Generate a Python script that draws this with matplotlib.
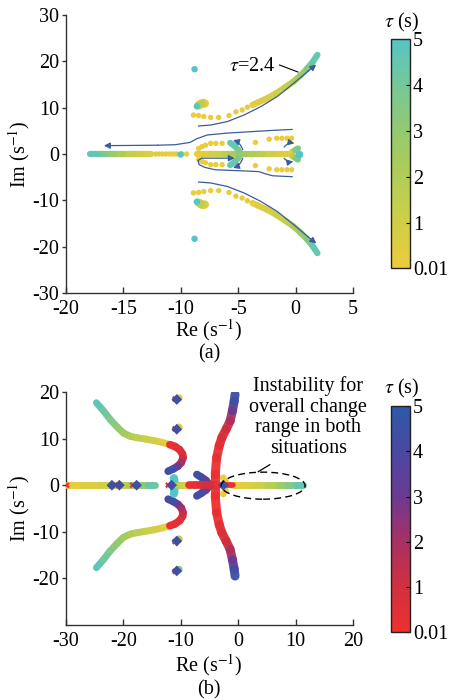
import numpy as np
import matplotlib
matplotlib.use('Agg')
import matplotlib.pyplot as plt
from matplotlib.collections import LineCollection
from matplotlib.colors import LinearSegmentedColormap, Normalize
from matplotlib.patches import Ellipse
import matplotlib.cm as cm

plt.rcParams['font.family'] = ['Liberation Serif', 'DejaVu Serif']
plt.rcParams['mathtext.fontset'] = 'stix'
plt.rcParams['axes.unicode_minus'] = False
FS = 14.5

# ---------------- data: panel (a) ----------------
a_up_sparse_re = [-8.9, -8.45, -8.0, -7.4, -6.7, -5.8, -5.2, -4.65, -4.2, -3.75]
a_up_sparse_im = [8.4, 8.3, 8.1, 7.9, 7.9, 8.3, 9.1, 9.5, 10.1, 10.6]
a_up_sparse_tau = [0.01, 0.02, 0.03, 0.05, 0.07, 0.1, 0.13, 0.17, 0.22, 0.3]
a_up_dense_re = [-3.75, -3.3, -2.5, -1.7, -0.9, -0.2, 0.4, 1.0, 1.5, 1.9]
a_up_dense_im = [10.6, 11.1, 12.0, 13.1, 14.4, 15.6, 16.9, 18.4, 19.9, 21.4]
a_up_dense_tau = [0.3, 0.4, 0.6, 0.9, 1.3, 1.8, 2.4, 3.2, 4.1, 5.0]

a_real_dense_re = [-12.6, -13.4, -14.2, -15.0, -15.8, -16.6, -17.3, -17.9]
a_real_dense_tau = [0.5, 0.8, 1.2, 1.8, 2.4, 3.4, 4.3, 5.0]
a_real_sparse_re = [-9.5, -9.9, -10.4, -10.7, -11.0, -11.3, -11.6, -11.9, -12.2]
a_real_sparse_tau = [0.01, 0.03, 0.06, 0.1, 0.15, 0.2, 0.27, 0.34, 0.42]

a_iso_re = [-8.8, -8.6, -10.1]
a_iso_im = [18.3, 10.3, 0.0]
a_iso_tau = [5.0, 5.0, 5.0]
a_blob_re = [-7.9, -8.05, -8.25, -8.45]
a_blob_im = [10.9, 11.0, 10.8, 10.5]
a_blob_tau = [0.01, 0.3, 0.9, 2.5]

a_cl_re = [-8.6, -8.0, -7.4, -6.8, -6.2, -5.6, -5.1, -4.8]
a_cl_tau = [0.01, 0.3, 0.6, 1.0, 1.4, 1.9, 2.3, 2.6]
a_fork_re = [-4.8, -5.0, -5.3, -5.7]
a_fork_im = [0.0, 0.9, 1.7, 2.4]
a_fork_tau = [2.6, 3.3, 4.1, 5.0]
a_cr_re = [-0.4, -1.2, -2.0, -2.8, -3.6, -4.3, -4.8]
a_cr_tau = [0.01, 0.4, 0.9, 1.4, 1.9, 2.3, 2.6]
a_z_re = [-0.5, -0.25, 0.0, 0.2]
a_z_im = [0.0, 0.5, 0.9, 1.2]
a_z_tau = [0.01, 1.0, 2.5, 5.0]

a_ul_re = [-8.45, -8.15, -7.85, -7.4, -6.95, -6.4]
a_ul_im = [1.2, 1.6, 1.9, 2.3, 2.3, 2.3]
a_ur_re = [-3.5, -2.3, -1.65, -1.2, -0.75, -0.35]
a_ur_im = [2.5, 3.2, 3.4, 3.4, 3.4, 3.4]
a_dot_tau = 0.01

# annotation paths (a)
arc_up_re = [-8.45, -7.4, -5.95, -4.5, -3.05, -1.6, -0.15, 1.05, 1.8]
arc_up_im = [6.05, 6.25, 7.0, 8.4, 10.2, 12.4, 15.3, 17.8, 19.3]
left_re = [-0.3, -2.0, -4.0, -6.0, -7.7, -8.6, -9.2, -10.5, -12.0, -16.7]
left_im = [5.3, 5.1, 4.8, 4.5, 4.1, 3.3, 2.5, 2.0, 1.9, 1.8]
low_re = [-8.2, -8.5, -8.4, -7.9, -7.0, -5.0, -3.2, -2.6, -2.0, -0.3]
low_im = [-0.9, -1.4, -2.3, -2.9, -3.4, -3.6, -3.8, -4.3, -4.7, -4.9]

# ---------------- data: panel (b) ----------------
b_out_a_re = [-24.7, -23.5, -22.3, -21.1, -20.0, -18.8, -17.7, -16.2, -14.8, -13.3, -11.9]
b_out_a_im = [17.7, 16.0, 14.1, 12.5, 11.2, 10.5, 10.2, 9.9, 9.6, 9.2, 8.7]
b_out_a_tau = [5.0, 4.4, 3.8, 3.2, 2.7, 2.2, 1.8, 1.4, 1.0, 0.6, 0.2]
b_out_b_re = [-11.9, -11.0, -10.2, -9.7, -9.6, -9.9, -10.5, -11.3, -12.2]
b_out_b_im = [8.7, 8.3, 7.6, 6.7, 5.9, 4.9, 4.1, 3.5, 3.0]
b_out_b_tau = [0.01, 0.2, 0.4, 0.6, 0.9, 1.5, 2.4, 3.5, 5.0]

b_real_a_re = [-29.8, -27.0, -24.0, -21.0, -19.0, -17.0, -15.8, -14.5]
b_real_a_tau = [0.01, 0.3, 0.7, 1.2, 1.8, 2.6, 3.5, 5.0]

b_diam_re = [-22.0, -20.7, -17.7, -11.6, -2.6, -10.7, -10.7, -10.7, -10.7]
b_diam_im = [0, 0, 0, 0, 0, 18.4, 12.0, -12.0, -18.4]
b_clu_re = [-10.35, -10.35, -10.35, -10.35]
b_clu_im = [18.7, 12.4, -11.6, -18.1]
b_red_pt_re = [-29.9, -12.2, -21.4, -18.4, -11.0, -11.0, -11.0, -11.0]
b_red_pt_im = [0, 0, 0, 0, 18.5, 12.1, -12.1, -18.5]

b_tb_re = [-11.2, -11.05, -11.2]
b_tb_im = [1.5, 0.0, -1.8]
b_mid_a_re = [-10.6, -9.9, -9.2, -8.6]
b_mid_a_tau = [2.5, 1.5, 0.7, 0.2]
b_mid_b_re = [-8.6, -7.6, -6.6, -5.6, -4.9]
b_mid_b_tau = [0.01, 0.3, 0.6, 1.0, 1.4]
b_arm_re = [-4.9, -5.6, -6.4, -7.2]
b_arm_im = [0.0, 1.0, 1.7, 2.3]
b_arm_tau = [1.4, 2.5, 3.6, 5.0]
b_mid_c_re = [-3.9, -4.4, -4.9]
b_mid_c_tau = [0.01, 0.6, 1.4]

b_ast_re = [-4.0, -4.0, -3.75, -3.3, -2.85, -2.1, -1.4, -1.0, -0.7, -0.55]
b_ast_im = [0.0, 2.3, 5.9, 8.5, 10.2, 12.0, 13.8, 16.0, 18.0, 19.5]
b_ast_tau = [0.01, 0.05, 0.15, 0.3, 0.5, 0.8, 1.4, 2.5, 3.8, 5.0]
b_red_re = [-3.9, -3.0, -2.2, -1.5, -0.9]
b_red_tau = [0.01, 0.1, 0.2, 0.3, 0.4]
b_yd_re = [-2.6, -2.2, -2.6, -2.2]
b_yd_im = [1.6, 0.9, -1.9, -1.2]
b_right_re = [-0.9, 1.0, 3.0, 5.0, 7.0, 8.5, 10.0, 11.3]
b_right_tau = [0.01, 0.3, 0.7, 1.3, 2.2, 3.0, 4.0, 5.0]

cb_ticks = [0.01, 1, 2, 3, 4, 5]
cb_labels = ['0.01', '1', '2', '3', '4', '5']

# ---------------- styling ----------------
cmap_a = LinearSegmentedColormap.from_list('a', ['#eccc3a', '#c8cf4a', '#a2cb60', '#7dc88e', '#56c6c4'])
cmap_b = LinearSegmentedColormap.from_list('b', ['#ee3030', '#d2303e', '#a83064', '#6c3a92', '#4a48a2', '#2c5aa8'])
norm = Normalize(0.01, 5)
BLUE = '#3b5b9c'


def band(ax, re, im, tau, cmap, lw=4.3, z=3, alpha=1.0):
    pts = np.column_stack([re, im])
    segs = np.stack([pts[:-1], pts[1:]], axis=1)
    t = np.asarray(tau, float)
    lc = LineCollection(segs, cmap=cmap, norm=norm, linewidths=lw,
                        capstyle='round', joinstyle='round', zorder=z, alpha=alpha)
    lc.set_array((t[:-1] + t[1:]) / 2)
    ax.add_collection(lc)


def dots(ax, re, im, tau, cmap, s=14, z=4, marker='o'):
    ax.scatter(re, im, c=np.broadcast_to(np.asarray(tau, float), np.shape(re)),
               cmap=cmap, norm=norm, s=s, marker=marker, linewidths=0, zorder=z)


def style_axes(ax):
    for sp in ['top', 'right']:
        ax.spines[sp].set_visible(False)
    for sp in ['left', 'bottom']:
        ax.spines[sp].set_linewidth(1.0)
        ax.spines[sp].set_color('#333333')
    ax.tick_params(axis='x', direction='in', length=4, width=1, labelsize=FS, pad=5, color='#333333')
    ax.tick_params(axis='y', direction='out', length=3, width=1, labelsize=FS, pad=2, color='#333333')


def arrow(ax, xy, xytext, rad=0.0, lw=0.9):
    ax.annotate('', xy=xy, xytext=xytext,
                arrowprops=dict(arrowstyle='-|>', color=BLUE, lw=lw, mutation_scale=9,
                                shrinkA=0, shrinkB=0, connectionstyle=f'arc3,rad={rad}'),
                zorder=6)


fig = plt.figure(figsize=(4.51, 7.0), dpi=100)

# ================= panel (a) =================
ax1 = fig.add_axes([66/451, 1-293/700, 287/451, 278/700])
ax1.set_xlim(-20, 5)
ax1.set_ylim(-30, 30)
ax1.set_xticks([-20, -15, -10, -5, 0, 5])
ax1.set_yticks([-30, -20, -10, 0, 10, 20, 30])
style_axes(ax1)

for sgn in (1, -1):
    up_im_s = sgn * np.asarray(a_up_sparse_im)
    up_im_d = sgn * np.asarray(a_up_dense_im)
    dots(ax1, a_up_sparse_re, up_im_s, a_up_sparse_tau, cmap_a, s=15)
    band(ax1, a_up_dense_re, up_im_d, a_up_dense_tau, cmap_a, lw=4.5)
    band(ax1, a_blob_re, sgn * np.asarray(a_blob_im), a_blob_tau, cmap_a, lw=6)
    band(ax1, a_fork_re, sgn * np.asarray(a_fork_im), a_fork_tau, cmap_a, lw=4.5, z=3)
    band(ax1, a_z_re, sgn * np.asarray(a_z_im), a_z_tau, cmap_a, lw=4.5, z=3)
    dots(ax1, a_ul_re, sgn * np.asarray(a_ul_im), a_dot_tau, cmap_a, s=15)
    dots(ax1, a_ur_re, sgn * np.asarray(a_ur_im), a_dot_tau, cmap_a, s=15)
    dots(ax1, a_iso_re[:2], sgn * np.asarray(a_iso_im[:2]), a_iso_tau[:2], cmap_a, s=22, z=5)

dots(ax1, a_iso_re[2:], a_iso_im[2:], a_iso_tau[2:], cmap_a, s=22, z=5)
band(ax1, a_real_dense_re, np.zeros(len(a_real_dense_re)), a_real_dense_tau, cmap_a, lw=4.5)
dots(ax1, a_real_sparse_re, np.zeros(len(a_real_sparse_re)), a_real_sparse_tau, cmap_a, s=15)
band(ax1, a_cl_re, np.zeros(len(a_cl_re)), a_cl_tau, cmap_a, lw=4.5, z=2)
band(ax1, a_cr_re, np.zeros(len(a_cr_re)), a_cr_tau, cmap_a, lw=4.5, z=2)
dots(ax1, [0.3], [0.0], [5.0], cmap_a, s=30, z=5)

# annotation lines
for sgn in (1, -1):
    yy = sgn * np.asarray(arc_up_im)
    ax1.plot(arc_up_re[:-1], yy[:-1], color=BLUE, lw=0.9, zorder=6)
    arrow(ax1, (arc_up_re[-1], yy[-1]), (arc_up_re[-2], yy[-2]))
ax1.plot(left_re[:-1], left_im[:-1], color=BLUE, lw=0.9, zorder=6)
arrow(ax1, (left_re[-1], left_im[-1]), (left_re[-2], left_im[-2]))
ax1.plot(low_re, low_im, color=BLUE, lw=0.9, zorder=6)
arrow(ax1, (-5.3, -0.9), (low_re[0], low_im[0]))
arrow(ax1, (-5.45, 3.0), (-4.6, 0.9), rad=0.25)
arrow(ax1, (-5.45, -3.0), (-4.6, -0.9), rad=-0.25)
arrow(ax1, (-0.1, 2.3), (-1.0, 1.5), rad=-0.3)
arrow(ax1, (-0.2, -1.6), (-1.0, -0.9), rad=0.3)

ax1.text(-3.74, 18.8, r'$\tau$=2.4', fontsize=FS, ha='center', va='center', zorder=7)
ax1.plot([-1.4, 0.2], [19.2, 17.7], color='black', lw=0.8, zorder=7)

# ================= panel (b) =================
ax2 = fig.add_axes([66/451, 1-625/700, 287/451, 233/700])
ax2.set_xlim(-30, 20)
ax2.set_ylim(-30, 20)
ax2.set_xticks([-30, -20, -10, 0, 10, 20])
ax2.set_yticks([-20, -10, 0, 10, 20])
style_axes(ax2)

for sgn in (1, -1):
    band(ax2, b_out_a_re, sgn * np.asarray(b_out_a_im), b_out_a_tau, cmap_a, lw=5)
    band(ax2, b_out_b_re, sgn * np.asarray(b_out_b_im), b_out_b_tau, cmap_b, lw=5.5, z=3)
    band(ax2, b_arm_re, sgn * np.asarray(b_arm_im), b_arm_tau, cmap_b, lw=5.5, z=3)
    band(ax2, b_ast_re, sgn * np.asarray(b_ast_im), b_ast_tau, cmap_b, lw=6.5, z=3, alpha=0.95)

band(ax2, b_real_a_re, np.zeros(len(b_real_a_re)), b_real_a_tau, cmap_a, lw=5)
band(ax2, b_tb_re, b_tb_im, [5.0, 5.0, 5.0], cmap_a, lw=6)
band(ax2, b_mid_a_re, np.zeros(len(b_mid_a_re)), b_mid_a_tau, cmap_a, lw=5)
band(ax2, b_mid_b_re, np.zeros(len(b_mid_b_re)), b_mid_b_tau, cmap_b, lw=5.5)
band(ax2, b_mid_c_re, np.zeros(len(b_mid_c_re)), b_mid_c_tau, cmap_b, lw=5.5)
band(ax2, b_right_re, np.zeros(len(b_right_re)), b_right_tau, cmap_a, lw=5, z=2)
dots(ax2, b_yd_re, b_yd_im, 0.01, cmap_a, s=22, z=4)
band(ax2, b_red_re, np.zeros(len(b_red_re)), b_red_tau, cmap_b, lw=4, z=4)
dots(ax2, b_clu_re, b_clu_im, [0.01, 0.5, 2.0, 3.5], cmap_a, s=30, z=4)
dots(ax2, b_red_pt_re, b_red_pt_im, 0.01, cmap_b, s=20, z=4, marker='X')
dots(ax2, b_diam_re, b_diam_im, 4.3, cmap_b, s=30, z=5, marker='D')

ell = Ellipse((4.35, -0.1), 14.6, 5.8, fill=False, ls=(0, (5, 3)), lw=1.0, color='black', zorder=6)
ax2.add_patch(ell)
ax2.plot([3.5, 5.5], [2.9, 4.4], color='black', lw=0.9, zorder=6)
ax2.text(12.2, 14.6, 'Instability for\noverall change\nrange in both\nsituations',
         fontsize=FS, ha='center', va='center', linespacing=1.12, zorder=7)

# ================= colorbars =================
for cmap, rect, ty in ((cmap_a, [391/451, 1-268/700, 19/451, 229/700], 22),
                       (cmap_b, [391/451, 1-632/700, 19/451, 226/700], 388)):
    cax = fig.add_axes(rect)
    cb = fig.colorbar(cm.ScalarMappable(norm=norm, cmap=cmap), cax=cax)
    cb.set_ticks(cb_ticks)
    cb.set_ticklabels(cb_labels)
    cb.outline.set_linewidth(1.0)
    cb.outline.set_edgecolor('#222222')
    cax.tick_params(direction='in', length=3, width=0.8, labelsize=FS, pad=2)
    fig.text(402/451, 1-ty/700, r'$\tau$ (s)', fontsize=FS, ha='center', va='center')

# ================= labels =================
for yl, xl, sub, tag in ((154, 330, 354, '(a)'), (508, 665, 690, '(b)')):
    fig.text(19/451, 1-yl/700, 'Im (s$^{-1}$)', fontsize=FS, rotation=90, ha='center', va='center')
    fig.text(209/451, 1-xl/700, 'Re (s$^{-1}$)', fontsize=FS, ha='center', va='center')
    fig.text(209/451, 1-sub/700, tag, fontsize=FS, ha='center', va='center')

fig.savefig('out.png', dpi=100)
